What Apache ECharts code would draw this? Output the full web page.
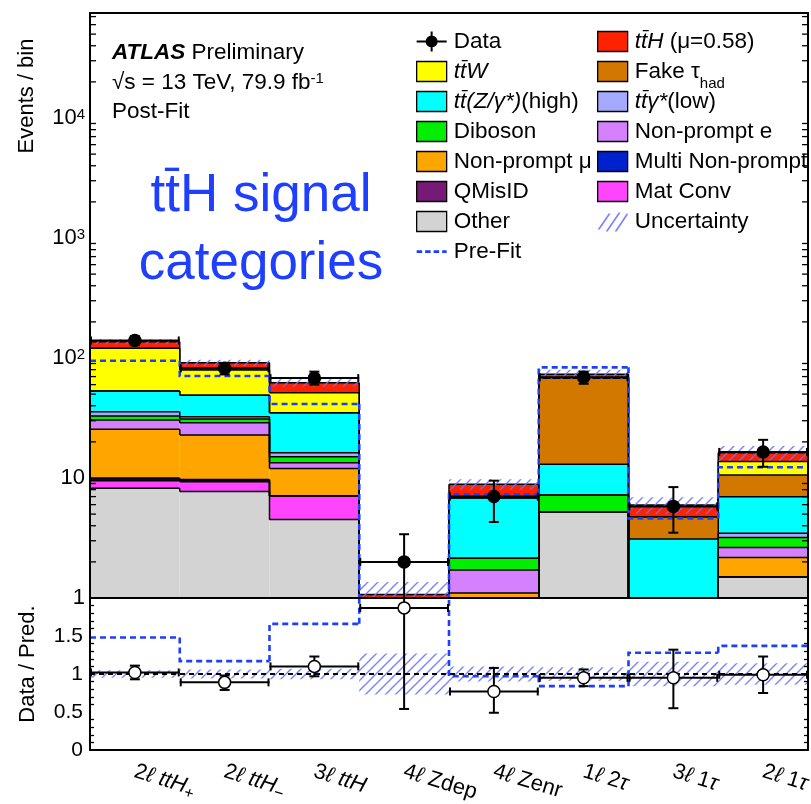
<!DOCTYPE html>
<html><head><meta charset="utf-8">
<script src="https://cdn.jsdelivr.net/npm/echarts@6.0.0/dist/echarts.min.js"></script>
<style>html,body{margin:0;padding:0;background:#fff}#c{width:811px;height:804px}</style>
</head><body><div id="c"></div>
<script>
// ---------------- data ----------------
const categories = ['2ℓ ttH+', '2ℓ ttH−', '3ℓ ttH', '4ℓ Zdep', '4ℓ Zenr', '1ℓ 2τ', '3ℓ 1τ', '2ℓ 1τ'];
const categoryLabels = ['2{i|ℓ} {i|ttH}{sub|+}', '2{i|ℓ} {i|ttH}{sub|−}', '3{i|ℓ} {i|ttH}', '4{i|ℓ} Zdep',
  '4{i|ℓ} Zenr', '1{i|ℓ} 2{i|τ}', '3{i|ℓ} 1{i|τ}', '2{i|ℓ} 1{i|τ}'];

// stack components, bottom to top
const other   = [8.2, 7.7, 4.5, 0.30, 0.55, 5.24, 0.30, 1.50];
const matConv = [1.3, 1.6, 2.6, 0.05, 0, 0, 0, 0];
const qmisid  = [0.3, 0.25, 0, 0, 0, 0, 0, 0];
const multiNP = [0.2, 0.15, 0, 0, 0, 0, 0, 0];
const npMu    = [15.5, 13.1, 4.9, 0.1, 0.55, 0, 0.1, 0.68];
const npE     = [4.9, 6.1, 1.4, 0.2, 0.61, 0, 0, 0.46];
const diboson = [2.5, 2.1, 1.6, 0.1, 0.43, 1.96, 0.2, 0.56];
const ttgLow  = [2.8, 1.4, 1.2, 0.03, 0, 0, 0, 0.26];
const ttZ     = [17.3, 16.6, 18.8, 0.2, 4.71, 5.8, 2.5, 3.52];
const fakeTau = [0, 0, 0, 0, 0, 54.8, 1.66, 3.62];
const ttW     = [67.5, 30.4, 16.4, 0, 0, 0, 0, 3.1];
const ttH     = [16.3, 12.0, 10.9, 0.09, 2.01, 5.4, 1.2, 2.5];

const dataVal  = [140, 82, 68, 2.0, 7.0, 69, 5.8, 16.5];
const dataUp   = [152, 91, 77, 3.4, 9.5, 77, 8.4, 20.8];
const dataDown = [128, 73, 60, 0.4, 4.3, 61, 3.5, 12.4];
const preFit   = [95, 70.8, 41.4, 0.8, 7.3, 83.6, 4.6, 12.3];
const relUncert = [0.05, 0.06, 0.07, 0.27, 0.10, 0.09, 0.16, 0.14];

const ratio       = [1.02, 0.89, 1.10, 1.87, 0.77, 0.95, 0.95, 0.99];
const ratioUp     = [1.11, 0.98, 1.23, 3.2, 1.08, 1.06, 1.32, 1.23];
const ratioDown   = [0.93, 0.79, 0.97, 0.54, 0.49, 0.84, 0.55, 0.75];
const preFitRatio = [1.48, 1.17, 1.66, 2.5, 0.97, 0.84, 1.28, 1.37];

const yMin = 1, yMax = 75000;
const ratioTicks = [0, 0.5, 1, 1.5, 2];

// ---------------- style ----------------
const FONT = 'Liberation Sans';
const N = categories.length;
const BLUE = '#1f3fff';
const HATCH_COL = 'rgba(105,115,255,0.9)';
function makeHatch() {
  const c = document.createElement('canvas'); c.width = 10; c.height = 10;
  const g = c.getContext('2d'); g.strokeStyle = HATCH_COL; g.lineWidth = 1.4;
  g.beginPath();
  g.moveTo(0, 10); g.lineTo(10, 0);
  g.moveTo(-5, 5); g.lineTo(5, -5);
  g.moveTo(5, 15); g.lineTo(15, 5);
  g.stroke();
  return c;
}
const hatch = { image: makeHatch(), repeat: 'repeat' };

const components = [
  { name: 'Other', values: other, color: '#d3d3d3' },
  { name: 'MatConv', values: matConv, color: '#ff44ff' },
  { name: 'QMisID', values: qmisid, color: '#761a76' },
  { name: 'MultiNP', values: multiNP, color: '#0022cc' },
  { name: 'NPmu', values: npMu, color: '#ffa500' },
  { name: 'NPe', values: npE, color: '#d580ff' },
  { name: 'Diboson', values: diboson, color: '#00ee00' },
  { name: 'ttgLow', values: ttgLow, color: '#a5aaff' },
  { name: 'ttZ', values: ttZ, color: '#00ffff' },
  { name: 'Fake', values: fakeTau, color: '#d27800' },
  { name: 'ttW', values: ttW, color: '#ffff00' },
  { name: 'ttH', values: ttH, color: '#ff2200' }
];
const cum = [];
components.forEach((c, k) => {
  cum.push(c.values.map((v, i) => (k ? cum[k - 1][i] : 0) + v));
});
const total = cum[cum.length - 1];
const TINY = 1e-3;

function edges(params, i) {
  const cs = params.coordSys; const bw = cs.width / N;
  return [cs.x + i * bw, cs.x + (i + 1) * bw, cs];
}

const series = [];
components.forEach((c, k) => {
  series.push({
    name: c.name, type: 'custom', xAxisIndex: 0, yAxisIndex: 0, clip: true, z: 2,
    itemStyle: { color: c.color },
    data: total.map((_, i) => [i, k ? Math.max(cum[k - 1][i], TINY) : TINY, Math.max(cum[k][i], TINY),
      i ? Math.max(cum[k][i - 1], TINY) : TINY]),
    renderItem: function (params, api) {
      const i = api.value(0);
      const [xl, xr] = edges(params, i);
      const yLo = api.coord([i, api.value(1)])[1];
      const yHi = api.coord([i, api.value(2)])[1];
      const yPrev = api.coord([i, api.value(3)])[1];
      const ch = [];
      if (yLo - yHi > 0.01) ch.push({ type: 'rect', z2: 1, shape: { x: xl, y: yHi, width: xr - xl, height: yLo - yHi }, style: { fill: c.color } });
      ch.push({ type: 'line', z2: 10, shape: { x1: xl, y1: yHi, x2: xr, y2: yHi }, style: { stroke: '#000', lineWidth: 1.5 } });
      ch.push({ type: 'line', z2: 10, shape: { x1: xl, y1: yPrev, x2: xl, y2: yHi }, style: { stroke: '#000', lineWidth: 1.5 } });
      return { type: 'group', children: ch };
    }
  });
});

// uncertainty band (main)
series.push({
  name: 'Uncertainty', type: 'custom', xAxisIndex: 0, yAxisIndex: 0, clip: true, z: 3,
  itemStyle: { color: HATCH_COL },
  data: total.map((t, i) => [i, t * (1 - relUncert[i]), t * (1 + relUncert[i])]),
  renderItem: function (params, api) {
    const i = api.value(0); const [xl, xr] = edges(params, i);
    const y1 = api.coord([i, api.value(1)])[1], y2 = api.coord([i, api.value(2)])[1];
    return { type: 'rect', shape: { x: xl, y: y2, width: xr - xl, height: y1 - y2 }, style: { fill: hatch } };
  }
});

function stepRender(color) {
  return function (params, api) {
    const i = api.value(0); const [xl, xr] = edges(params, i);
    const y = api.coord([i, api.value(1)])[1], yp = api.coord([i, api.value(2)])[1];
    const pts = i > 0 ? [[xl, yp], [xl, y], [xr, y]] : [[xl, y], [xr, y]];
    return { type: 'polyline', shape: { points: pts }, style: { stroke: color, lineWidth: 2.6, lineDash: [6, 4], fill: null } };
  };
}
series.push({
  name: 'PreFit', type: 'custom', xAxisIndex: 0, yAxisIndex: 0, clip: true, z: 4,
  itemStyle: { color: BLUE },
  data: preFit.map((v, i) => [i, v, i ? preFit[i - 1] : v]),
  renderItem: stepRender(BLUE)
});

function pointRender(fill, r) {
  return function (params, api) {
    const i = api.value(0); const [xl, xr] = edges(params, i);
    const xc = (xl + xr) / 2;
    const y = api.coord([i, api.value(1)])[1];
    const yu = api.coord([i, api.value(2)])[1];
    const yd = api.coord([i, api.value(3)])[1];
    const st = { stroke: '#000', lineWidth: 2 };
    return {
      type: 'group', children: [
        { type: 'line', shape: { x1: xl, y1: y, x2: xr, y2: y }, style: st },
        { type: 'line', shape: { x1: xl + 1, y1: y - 4, x2: xl + 1, y2: y + 4 }, style: st },
        { type: 'line', shape: { x1: xr - 1, y1: y - 4, x2: xr - 1, y2: y + 4 }, style: st },
        { type: 'line', shape: { x1: xc, y1: yu, x2: xc, y2: yd }, style: st },
        { type: 'line', shape: { x1: xc - 5, y1: yu, x2: xc + 5, y2: yu }, style: st },
        { type: 'line', shape: { x1: xc - 5, y1: yd, x2: xc + 5, y2: yd }, style: st },
        { type: 'circle', z2: 5, shape: { cx: xc, cy: y, r: r }, style: { fill: fill, stroke: '#000', lineWidth: 1.5 } }
      ]
    };
  };
}
series.push({
  name: 'Data', type: 'custom', xAxisIndex: 0, yAxisIndex: 0, clip: true, z: 5,
  itemStyle: { color: '#000' },
  data: dataVal.map((v, i) => [i, v, dataUp[i], Math.max(dataDown[i], TINY)]),
  renderItem: pointRender('#000', 6)
});

// log minor ticks on both sides of the main panel
const logMinor = [];
for (let e = 0; e < 5; e++) for (let m = 2; m <= 9; m++) { const v = m * Math.pow(10, e); if (v < yMax) logMinor.push(v); }
series.push({
  name: 'minorTicks', type: 'custom', xAxisIndex: 0, yAxisIndex: 0, z: 6, silent: true,
  data: logMinor.map(v => [0, v]),
  renderItem: function (params, api) {
    const cs = params.coordSys; const y = api.coord([0, api.value(1)])[1];
    const st = { stroke: '#000', lineWidth: 1.3 };
    return { type: 'group', children: [
      { type: 'line', shape: { x1: cs.x, y1: y, x2: cs.x + 6, y2: y }, style: st },
      { type: 'line', shape: { x1: cs.x + cs.width - 6, y1: y, x2: cs.x + cs.width, y2: y }, style: st }
    ] };
  }
});

// ---------- ratio panel ----------
series.push({
  name: 'ratioUnc', type: 'custom', xAxisIndex: 2, yAxisIndex: 2, clip: true, z: 2,
  data: relUncert.map((u, i) => [i, 1 - u, 1 + u]),
  renderItem: function (params, api) {
    const i = api.value(0); const [xl, xr] = edges(params, i);
    const y1 = api.coord([i, api.value(1)])[1], y2 = api.coord([i, api.value(2)])[1];
    return { type: 'rect', shape: { x: xl, y: y2, width: xr - xl, height: y1 - y2 }, style: { fill: hatch } };
  }
});
series.push({
  name: 'unity', type: 'custom', xAxisIndex: 2, yAxisIndex: 2, clip: true, z: 3,
  data: [[0, 1]],
  renderItem: function (params, api) {
    const cs = params.coordSys; const y = api.coord([0, 1])[1];
    return { type: 'line', shape: { x1: cs.x, y1: y, x2: cs.x + cs.width, y2: y }, style: { stroke: '#000', lineWidth: 2, lineDash: [5, 4] } };
  }
});
series.push({
  name: 'ratioPreFit', type: 'custom', xAxisIndex: 2, yAxisIndex: 2, clip: true, z: 4,
  data: preFitRatio.map((v, i) => [i, v, i ? preFitRatio[i - 1] : v]),
  renderItem: stepRender(BLUE)
});
series.push({
  name: 'ratioData', type: 'custom', xAxisIndex: 2, yAxisIndex: 2, clip: true, z: 5,
  data: ratio.map((v, i) => [i, v, ratioUp[i], ratioDown[i]]),
  renderItem: pointRender('#fff', 6)
});

// ---------- legend ----------
const DATA_ICON = 'path://M0,9L30,9L30,11L0,11Z M14,0L16,0L16,20L14,20Z M21,10A6,6,0,1,1,9,10A6,6,0,1,1,21,10Z';
const DASH_ICON = 'path://M0,0M30,20M0,8.8h5.5v2.6h-5.5z M8.5,8.8h5.5v2.6h-5.5z M17,8.8h5.5v2.6h-5.5z M25.5,8.8h4.5v2.6h-4.5z';
const HATCH_ICON = 'path://M0,0M30,20M0,18L11,2L13,2L2,18Z M8,20L21,1L23,1L10,20Z M17,20L29,2L30,2L30,3.5L19,20Z';
const legendText = {
  Data: 'Data', ttW: '{i|tt̄W}', ttZ: '{i|tt̄(Z/γ*)}(high)', Diboson: 'Diboson', NPmu: 'Non-prompt μ',
  QMisID: 'QMisID', Other: 'Other', PreFit: 'Pre-Fit', ttH: '{i|tt̄H} (μ=0.58)', Fake: 'Fake τ{sub|had}',
  ttgLow: '{i|tt̄γ*}(low)', NPe: 'Non-prompt e', MultiNP: 'Multi Non-prompt', MatConv: 'Mat Conv', Uncertainty: 'Uncertainty'
};
function legendData(names) {
  return names.map(n => {
    if (n === 'Data') return { name: n, icon: DATA_ICON, itemStyle: { color: '#000', borderWidth: 0 } };
    if (n === 'PreFit') return { name: n, icon: DASH_ICON, itemStyle: { color: BLUE, borderWidth: 0 } };
    if (n === 'Uncertainty') return { name: n, icon: HATCH_ICON, itemStyle: { color: HATCH_COL, borderWidth: 0 } };
    return { name: n, icon: 'rect' };
  });
}
const LFS = 22.5;
const legendBase = {
  orient: 'vertical', itemWidth: 30, itemHeight: 20, itemGap: 7, selectedMode: false, padding: 0,
  formatter: n => legendText[n],
  itemStyle: { borderColor: '#000', borderWidth: 1.3 },
  textStyle: {
    fontFamily: FONT, fontSize: LFS, color: '#000', lineHeight: 23, padding: [0, 0, 0, 2],
    rich: {
      i: { fontFamily: FONT, fontSize: LFS, fontStyle: 'italic', lineHeight: 23, color: '#000' },
      sub: { fontFamily: FONT, fontSize: 15, verticalAlign: 'bottom', padding: [0, 0, -8, 0], color: '#000' }
    }
  }
};

const axisLineStyle = { show: true, onZero: false, lineStyle: { color: '#000', width: 2 } };
const tickStyle = { lineStyle: { color: '#000', width: 1.5 } };

const option = {
  animation: false,
  backgroundColor: '#fff',
  grid: [
    { left: 90, top: 13, width: 718, height: 585, containLabel: false, outerBoundsMode: 'none' },
    { left: 90, top: 598, width: 718, height: 152, containLabel: false, outerBoundsMode: 'none' }
  ],
  xAxis: [
    { type: 'category', gridIndex: 0, data: categories, position: 'bottom', z: 10, axisLine: axisLineStyle,
      axisTick: Object.assign({ inside: true, length: 6, interval: 0 }, tickStyle), axisLabel: { show: false }, splitLine: { show: false } },
    { type: 'category', gridIndex: 0, data: categories, position: 'top', z: 10, axisLine: axisLineStyle,
      axisTick: Object.assign({ inside: true, length: 10, interval: 0 }, tickStyle), axisLabel: { show: false }, splitLine: { show: false } },
    { type: 'category', gridIndex: 1, data: categories, position: 'bottom', z: 10, axisLine: axisLineStyle,
      axisTick: Object.assign({ inside: true, length: 6, interval: 0 }, tickStyle), splitLine: { show: false },
      axisLabel: {
        interval: 0, rotate: -17, margin: 21, fontFamily: FONT, fontSize: 22, color: '#000',
        formatter: (v, idx) => categoryLabels[idx],
        rich: {
          i: { fontFamily: FONT, fontSize: 22, fontStyle: 'italic', color: '#000' },
          sub: { fontFamily: FONT, fontSize: 16, verticalAlign: 'bottom', padding: [0, 0, -3, 0], color: '#000' }
        }
      } },
    { type: 'category', gridIndex: 1, data: categories, position: 'top', z: 10, axisLine: axisLineStyle,
      axisTick: Object.assign({ inside: true, length: 5, interval: 0 }, tickStyle), axisLabel: { show: false }, splitLine: { show: false } }
  ],
  yAxis: [
    { type: 'log', logBase: 10, gridIndex: 0, min: yMin, max: yMax, position: 'left', z: 10, axisLine: axisLineStyle,
      axisTick: Object.assign({ inside: true, length: 11 }, tickStyle), splitLine: { show: false },
      axisLabel: {
        margin: 5, fontFamily: FONT, fontSize: 22, color: '#000', lineHeight: 22,
        formatter: v => {
          const l = Math.log10(v), e = Math.round(l);
          if (Math.abs(l - e) > 1e-6) return '';
          if (e === 0) return '1';
          if (e === 1) return '10';
          return '10{sup|' + e + '}';
        },
        rich: { sup: { fontFamily: FONT, fontSize: 15, lineHeight: 6, verticalAlign: 'top', color: '#000' } }
      } },
    { type: 'log', logBase: 10, gridIndex: 0, min: yMin, max: yMax, position: 'right', z: 10, axisLine: axisLineStyle,
      axisTick: Object.assign({ inside: true, length: 11 }, tickStyle), splitLine: { show: false }, axisLabel: { show: false } },
    { type: 'value', gridIndex: 1, min: ratioTicks[0], max: ratioTicks[ratioTicks.length - 1], interval: 0.5, position: 'left', z: 10,
      axisLine: axisLineStyle, axisTick: Object.assign({ inside: true, length: 9 }, tickStyle),
      minorTick: { show: true, splitNumber: 5, length: 4, lineStyle: { color: '#000', width: 1.3 } },
      splitLine: { show: false },
      axisLabel: { margin: 7, fontFamily: FONT, fontSize: 21, color: '#000', formatter: v => (v === 2 ? '' : String(v)) } },
    { type: 'value', gridIndex: 1, min: ratioTicks[0], max: ratioTicks[ratioTicks.length - 1], interval: 0.5, position: 'right', z: 10,
      axisLine: axisLineStyle, axisTick: Object.assign({ inside: true, length: 9 }, tickStyle),
      minorTick: { show: true, splitNumber: 5, length: 4, lineStyle: { color: '#000', width: 1.3 } },
      splitLine: { show: false }, axisLabel: { show: false } }
  ],
  legend: [
    Object.assign({ left: 416, top: 30, data: legendData(['Data', 'ttW', 'ttZ', 'Diboson', 'NPmu', 'QMisID', 'Other', 'PreFit']) }, legendBase),
    Object.assign({ left: 597, top: 30, data: legendData(['ttH']) }, legendBase),
    Object.assign({ left: 597, top: 60, data: legendData(['Fake']) }, legendBase),
    Object.assign({ left: 597, top: 90, data: legendData(['ttgLow', 'NPe', 'MultiNP', 'MatConv', 'Uncertainty']) }, legendBase)
  ],
  graphic: [
    { type: 'text', x: 112, y: 53, z: 20, style: { text: '{b|ATLAS} Preliminary', fontFamily: FONT, fontSize: 22.5, fill: '#000', verticalAlign: 'middle',
      rich: { b: { fontFamily: FONT, fontSize: 22.5, fontWeight: 'bold', fontStyle: 'italic', fill: '#000' } } } },
    { type: 'text', x: 112, y: 83, z: 20, style: { text: '√s = 13 TeV, 79.9 fb{sup|-1}', fontFamily: FONT, fontSize: 22.5, fill: '#000', verticalAlign: 'middle',
      rich: { sup: { fontFamily: FONT, fontSize: 15, lineHeight: 6, verticalAlign: 'top', fill: '#000' } } } },
    { type: 'text', x: 112, y: 112, z: 20, style: { text: 'Post-Fit', fontFamily: FONT, fontSize: 22.5, fill: '#000', verticalAlign: 'middle' } },
    { type: 'text', x: 261, y: 196, z: 20, style: { text: 'tt\u0304H signal', fontFamily: FONT, fontSize: 53, fill: BLUE, align: 'center', verticalAlign: 'middle' } },
    { type: 'text', x: 261, y: 264, z: 20, style: { text: 'categories', fontFamily: FONT, fontSize: 53, fill: BLUE, align: 'center', verticalAlign: 'middle' } },
    { type: 'text', x: 27, y: 96, rotation: Math.PI / 2, z: 20, style: { text: 'Events / bin', fontFamily: FONT, fontSize: 22, fill: '#000', align: 'center', verticalAlign: 'middle' } },
    { type: 'text', x: 28, y: 664, rotation: Math.PI / 2, z: 20, style: { text: 'Data / Pred.', fontFamily: FONT, fontSize: 22, fill: '#000', align: 'center', verticalAlign: 'middle' } }
  ],
  series: series
};
const chart = echarts.init(document.getElementById('c'));
chart.setOption(option);
</script></body></html>
